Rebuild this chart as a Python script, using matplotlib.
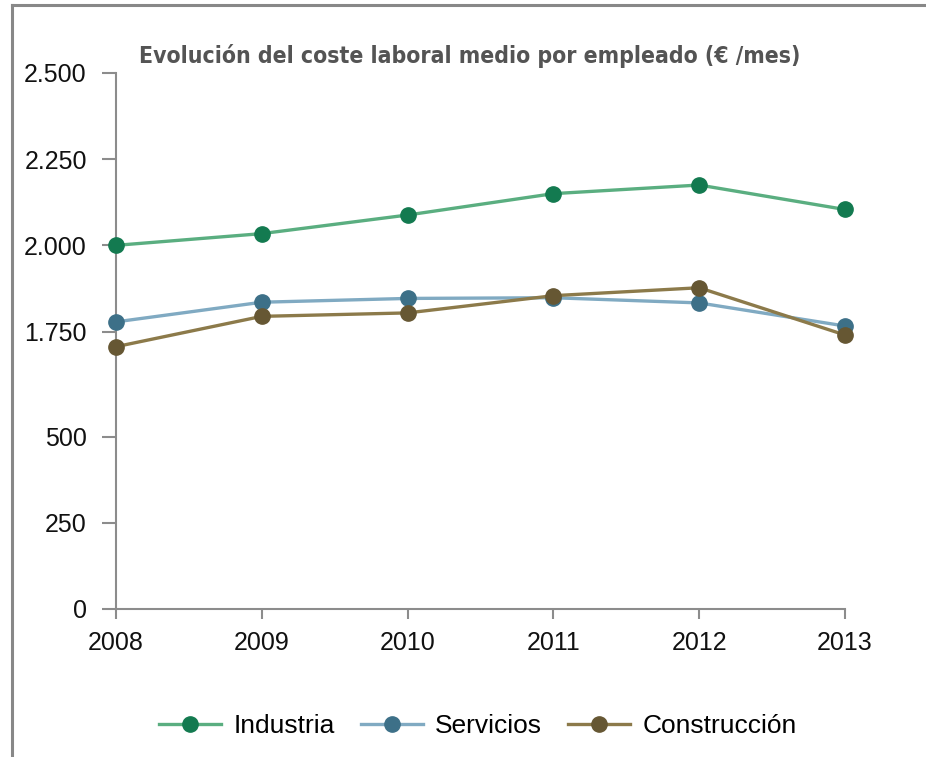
import matplotlib
matplotlib.use('Agg')
import matplotlib.pyplot as plt
from matplotlib.lines import Line2D
import numpy as np

years = [2008, 2009, 2010, 2011, 2012, 2013]
industria = [2000, 2034, 2088, 2150, 2175, 2104]
servicios = [1778, 1835, 1846, 1848, 1833, 1766]
construccion = [1706, 1794, 1804, 1854, 1877, 1740]

ytick_vals = [0, 250, 500, 1750, 2000, 2250, 2500]
ytick_labels = ['0', '250', '500', '1.750', '2.000', '2.250', '2.500']

# broken axis: the stretch 500..1500 is squeezed
brk_v = [0, 500, 1500, 2500]
brk_t = [0, 500, 555, 1555]

def fwd(v):
    return np.interp(v, brk_v, brk_t)

def inv(t):
    return np.interp(t, brk_t, brk_v)

plt.rcParams['font.family'] = ['Liberation Sans', 'DejaVu Sans']

fig = plt.figure(figsize=(9.26, 7.57), dpi=100)
ax = fig.add_axes([116/926, 1-609/757, (845-116)/926, (609-73)/757])
ax.set_yscale('function', functions=(fwd, inv))

series = [
    ('Industria', industria, '#5aae80', '#137a50'),
    ('Servicios', servicios, '#80aac2', '#3d7088'),
    ('Construcción', construccion, '#8c7a4a', '#665733'),
]
handles = []
for name, vals, lc, mc in series:
    ax.plot(years, vals, color=lc, lw=2.4, marker='o', ms=11,
            mfc=mc, mec=mc, clip_on=False, zorder=3)
    handles.append(Line2D([], [], color=lc, lw=2.4, marker='o', ms=11,
                          mfc=mc, mec=mc, label=name))

ax.set_xlim(2008, 2013)
ax.set_ylim(0, 2500)
ax.set_xticks(years)
ax.set_xticklabels([str(y) for y in years])
ax.set_yticks(ytick_vals)
ax.set_yticklabels(ytick_labels)
ax.yaxis.set_minor_locator(matplotlib.ticker.NullLocator())

for s in ['top', 'right']:
    ax.spines[s].set_visible(False)
for s in ['left', 'bottom']:
    ax.spines[s].set_color('#8c8c8c')
    ax.spines[s].set_linewidth(1.5)
ax.tick_params(axis='y', length=10, width=1.5, color='#8c8c8c', pad=11,
               labelsize=18, labelcolor='#111111')
ax.tick_params(axis='x', length=7, width=1.5, color='#8c8c8c', pad=9,
               labelsize=18, labelcolor='#111111')

fig.text(470/926, 1-63/757, 'Evolución del coste laboral medio por empleado (€ /mes)',
         fontsize=16.5, fontweight='heavy', fontstretch='condensed',
         family=['DejaVu Sans'], color='#545454',
         ha='center', va='baseline')

fig.legend(handles=handles, loc='center', bbox_to_anchor=(478/926, 1-726/757),
           ncol=3, frameon=False, fontsize=19, handlelength=2.35,
           columnspacing=1.0, handletextpad=0.45)

# outer frame lines
fig.add_artist(Line2D([12/926, 12/926], [0, 1-5/757], color='#888888', lw=2.2))
fig.add_artist(Line2D([12/926, 1], [1-5/757, 1-5/757], color='#888888', lw=2.2))

fig.savefig('out.png', dpi=100)
